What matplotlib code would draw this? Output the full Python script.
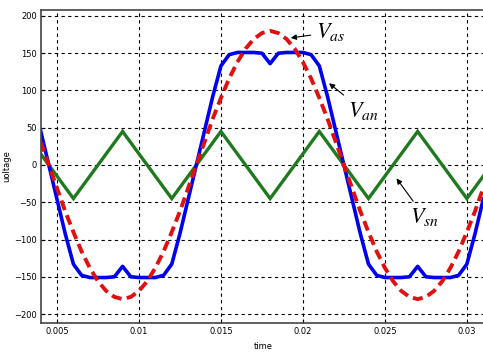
import numpy as np
import matplotlib
matplotlib.use("Agg")
import matplotlib.pyplot as plt

plt.rcParams['mathtext.fontset'] = 'stix'

#time axis, read at 0.5 ms steps
t = [0.0040 + 0.0005 * i for i in range(55)]

#phase voltage Vas (red dashed)
v_as = [31, 0, -31, -62, -90, -116, -138, -156, -169, -177,
        -180, -177, -169, -156, -138, -116, -90, -62, -31, 0,
        31, 62, 90, 116, 138, 156, 169, 177, 180, 177,
        169, 156, 138, 116, 90, 62, 31, 0, -31, -62,
        -90, -116, -138, -156, -169, -177, -180, -177, -169, -156,
        -138, -116, -90, -62, -31]

#Van (blue) - flat top with a small dip
v_an = [46, 0, -46, -92, -133, -148, -151, -151, -151, -150,
        -136, -150, -151, -151, -151, -148, -133, -92, -46, 0,
        46, 92, 133, 148, 151, 151, 151, 150, 136, 150,
        151, 151, 151, 148, 133, 92, 46, 0, -46, -92,
        -133, -148, -151, -151, -151, -150, -136, -150, -151, -151,
        -151, -148, -133, -92, -46]

#Vsn (green triangle), corner points
t_sn = [0.004, 0.006, 0.009, 0.012, 0.015, 0.018, 0.021, 0.024, 0.027, 0.030, 0.031]
v_sn = [15, -45, 45, -45, 45, -45, 45, -45, 45, -45, -15]

x_ticks = [0.005, 0.01, 0.015, 0.02, 0.025, 0.03]
x_labels = ["0.005", "0.01", "0.015", "0.02", "0.025", "0.03"]
y_ticks = [-200, -150, -100, -50, 0, 50, 100, 150, 200]

fig = plt.figure(figsize=(4.83, 3.54), dpi=100)
ax = fig.add_axes([0.0849, 0.0876, 0.919, 0.8842])

ax.plot(t_sn, v_sn, color='#1f7a1f', lw=2.4, solid_joinstyle='miter')
ax.plot(t, v_an, color='#0000f0', lw=2.6)
ax.plot(t, v_as, color='#e01010', lw=2.8, linestyle=(0, (2.6, 1.4)))

ax.set_xlim(0.004024, 0.0311)
ax.set_ylim(-212, 208)
ax.set_xticks(x_ticks)
ax.set_xticklabels(x_labels)
ax.set_yticks(y_ticks)
ax.grid(True, color='black', linestyle=(0, (3, 3)), lw=0.8)
ax.tick_params(direction='in', length=3, labelsize=6, pad=3)
for lab in ax.get_xticklabels() + ax.get_yticklabels():
    lab.set_family(['Liberation Sans Narrow', 'DejaVu Sans'])
for s in ax.spines.values():
    s.set_color('#444444')
    s.set_linewidth(1.2)

ax.set_xlabel("time", fontsize=6, labelpad=4, family=['Liberation Sans Narrow', 'DejaVu Sans'])
ax.set_ylabel("uoltage", fontsize=6, labelpad=2, family=['Liberation Sans Narrow', 'DejaVu Sans'])

arrow = dict(arrowstyle='-|>', color='black', lw=0.8, mutation_scale=8)
ax.annotate(r"$V_{as}$", xy=(0.01909, 170), xytext=(0.0217, 178), fontsize=16,
            ha='center', va='center', arrowprops=arrow)
ax.annotate(r"$V_{an}$", xy=(0.02146, 112), xytext=(0.02366, 73), fontsize=16,
            ha='center', va='center', arrowprops=arrow)
ax.annotate(r"$V_{sn}$", xy=(0.02561, -15), xytext=(0.02744, -70), fontsize=16,
            ha='center', va='center', arrowprops=arrow)

fig.savefig("out.png", dpi=100)
